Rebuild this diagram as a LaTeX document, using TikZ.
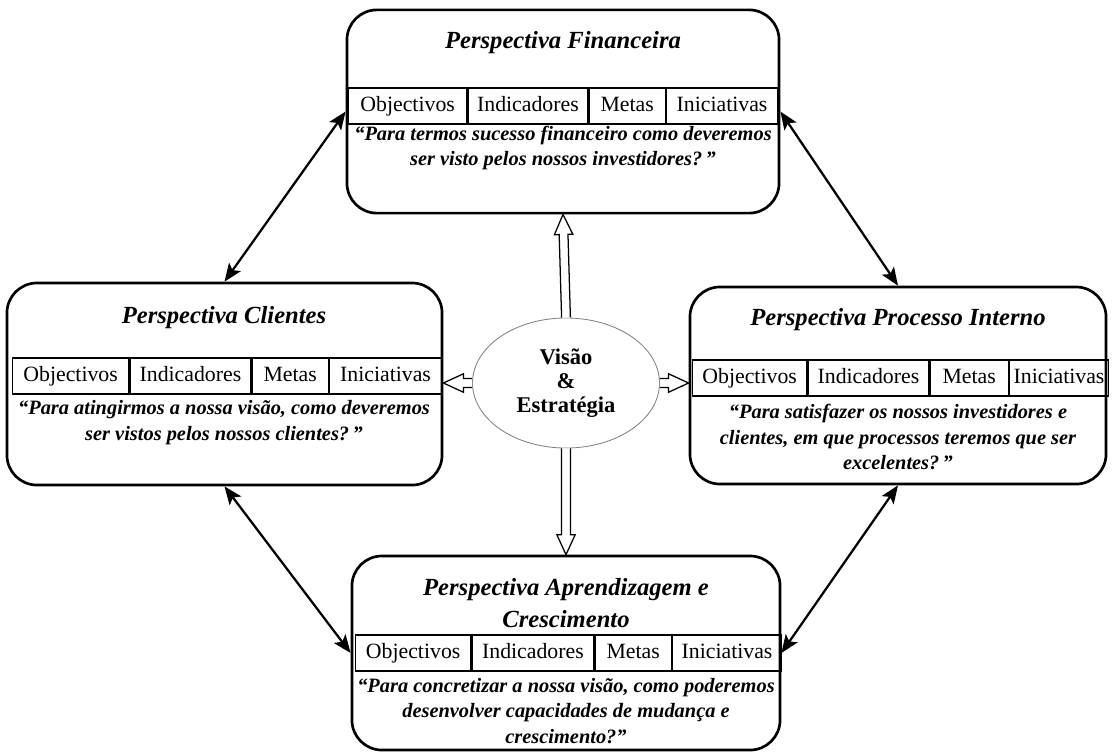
\documentclass[tikz,border=0pt]{standalone}
\usepackage{fontspec}
\setmainfont{Liberation Serif}
\usetikzlibrary{shapes.geometric,arrows.meta,positioning,calc}
\newcommand\titfont{\fontsize{17.5}{22.7}\selectfont\bfseries\itshape}
\newcommand\tabfont{\fontsize{15.5}{18}\selectfont}
\newcommand\quofont{\fontsize{14.5}{18.4}\selectfont\bfseries\itshape}
\newcommand\visfont{\fontsize{16}{17}\selectfont\bfseries}
\tikzset{
    persp/.style={draw, line width=1.9pt, rounded corners=7.5mm,
                  fill=white, inner sep=0pt},
    cell/.style={draw, line width=0.9pt, minimum width=#1,
                 minimum height=0.9cm, inner sep=0pt, font=\tabfont,
                 text height=2.3ex, text depth=0.6ex},
    ptitle/.style={font=\titfont, align=center, inner sep=0pt},
    pquote/.style={font=\quofont, align=center, inner sep=0pt},
    hollow/.style={draw, fill=white, line width=0.9pt, line join=miter,
        to path={($(\tikztostart)!1.1mm!90:(\tikztotarget)$)
          -- ($($(\tikztotarget)!5mm!(\tikztostart)$)!1.1mm!90:(\tikztotarget)$)
          -- ($($(\tikztotarget)!5mm!(\tikztostart)$)!2.3mm!90:(\tikztotarget)$)
          -- (\tikztotarget)
          -- ($($(\tikztotarget)!5mm!(\tikztostart)$)!2.3mm!-90:(\tikztotarget)$)
          -- ($($(\tikztotarget)!5mm!(\tikztostart)$)!1.1mm!-90:(\tikztotarget)$)
          -- ($(\tikztostart)!1.1mm!-90:(\tikztotarget)$)}},
}

\begin{document}
\begin{tikzpicture}[
    x=0.025cm, y=-0.025cm,
    arr/.style={{Stealth[length=4.5mm,width=3.6mm,inset=1mm]}-{Stealth[length=4.5mm,width=3.6mm,inset=1mm]},
                line width=1.6pt}
]
    \useasboundingbox (0,0) rectangle (1112,752);

    % the four perspectives
    \node[persp, minimum width=10.8cm, minimum height=5.08cm] (fin) at (563,111.5) {};
    \node[persp, minimum width=10.875cm, minimum height=5.05cm] (cli) at (224.5,384) {};
    \node[persp, minimum width=10.4cm, minimum height=4.925cm] (proc) at (898,385.5) {};
    \node[persp, minimum width=10.7cm, minimum height=4.85cm] (apr) at (566,653) {};

    % financeira
    \node[ptitle] (finT) at (563,43) {Perspectiva Financeira};
    \node[cell=2.95cm, anchor=west] (finO) at (348,106) {Objectivos};
    \node[cell=3cm, right=0pt of finO] (finI) {Indicadores};
    \node[cell=1.9cm, right=0pt of finI] (finM) {Metas};
    \node[cell=2.775cm, right=0pt of finM] (finN) {Iniciativas};
    \node[pquote] (finQ) at (563,148) {“Para termos sucesso financeiro como deveremos\\ser visto pelos nossos investidores?\,”};

    % clientes
    \node[ptitle] (cliT) at (224,318) {Perspectiva Clientes};
    \node[cell=2.9cm, anchor=west] (cliO) at (12,376) {Objectivos};
    \node[cell=3.025cm, right=0pt of cliO] (cliI) {Indicadores};
    \node[cell=1.9cm, right=0pt of cliI] (cliM) {Metas};
    \node[cell=2.8cm, right=0pt of cliM] (cliN) {Iniciativas};
    \node[pquote] (cliQ) at (224,423) {“Para atingirmos a nossa visão, como deveremos\\ser vistos pelos nossos clientes?\,”};

    % processo interno
    \node[ptitle] (procT) at (898,320) {Perspectiva Processo Interno};
    \node[cell=2.85cm, anchor=west] (procO) at (692,378) {Objectivos};
    \node[cell=3.025cm, right=0pt of procO] (procI) {Indicadores};
    \node[cell=1.95cm, right=0pt of procI] (procM) {Metas};
    \node[cell=2.475cm, right=0pt of procM] (procN) {Iniciativas};
    \node[pquote] (procQ) at (898,437) {“Para satisfazer os nossos investidores e\\clientes, em que processos teremos que ser\\excelentes?\,”};

    % aprendizagem
    \node[ptitle] (aprT) at (566,603) {Perspectiva Aprendizagem e\\Crescimento};
    \node[cell=2.875cm, anchor=west] (aprO) at (355,653) {Objectivos};
    \node[cell=3.05cm, right=0pt of aprO] (aprI) {Indicadores};
    \node[cell=1.9cm, right=0pt of aprI] (aprM) {Metas};
    \node[cell=2.725cm, right=0pt of aprM] (aprN) {Iniciativas};
    \node[pquote] (aprQ) at (566,711) {“Para concretizar a nossa visão, como poderemos\\desenvolver capacidades de mudança e\\crescimento?”};

    % centre
    \node[ellipse, draw=gray, line width=0.6pt, minimum width=4.675cm, minimum height=3.25cm,
          font=\visfont, align=center] (vis) at (566,383) {Visão\\\&\\Estratégia};
    \coordinate (cliin) at (vis.west -| cli.east);
    \coordinate (procin) at (vis.east -| proc.west);

    \draw[hollow] (vis.north) to (fin.south);
    \draw[hollow] (vis.south) to (apr.north);
    \draw[hollow] (vis.west) to (cliin);
    \draw[hollow] (vis.east) to (procin);

    \draw[arr] (fin.west) -- (cli.north);
    \draw[arr] (fin.east) -- (proc.north);
    \draw[arr] (cli.south) -- (apr.west);
    \draw[arr] (proc.south) -- (apr.east);
\end{tikzpicture}
\end{document}
